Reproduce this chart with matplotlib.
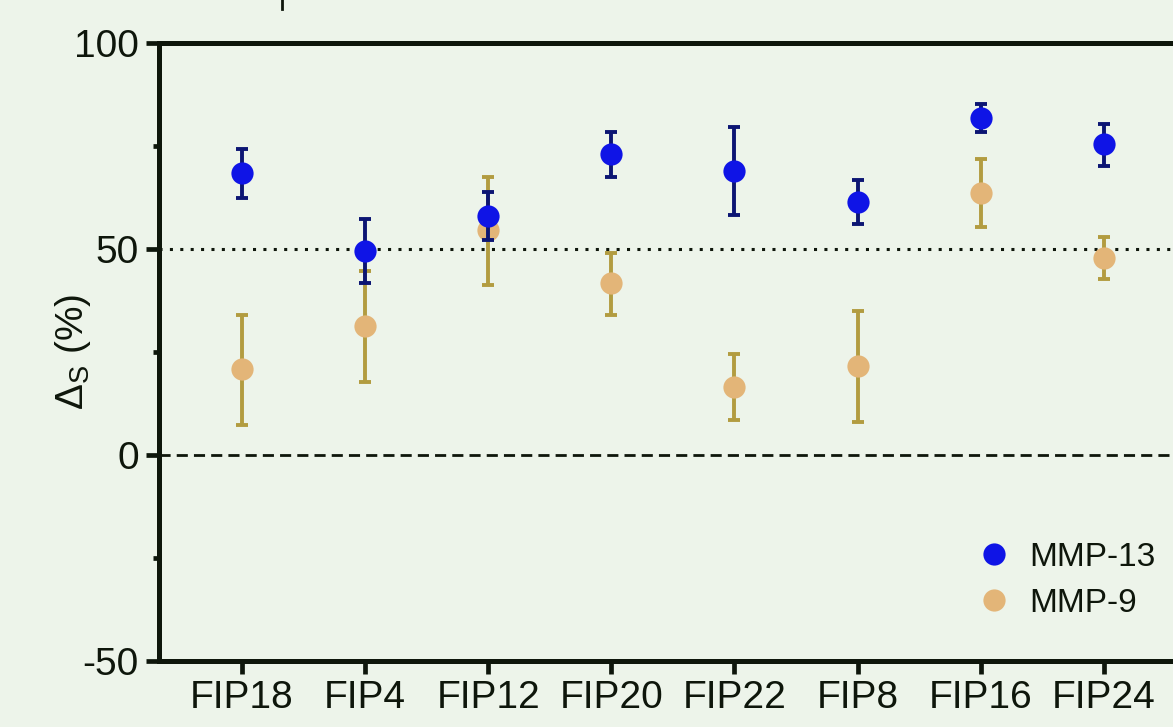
"""Delta_S per FIP probe for MMP-13 and MMP-9 (mean with error bars)."""

import matplotlib

matplotlib.use("Agg")
import matplotlib.pyplot as plt  # noqa: E402
import numpy as np  # noqa: E402
from matplotlib.lines import Line2D  # noqa: E402

BG = "#edf4ea"
INK = "#0e160b"
BLUE, BLUE_ERR = "#0f14e6", "#0c1573"
ORANGE, ORANGE_ERR = "#e3b578", "#b29c40"

probes = ["FIP18", "FIP4", "FIP12", "FIP20", "FIP22", "FIP8", "FIP16", "FIP24"]

mmp13_mean = [68.5, 49.5, 58.0, 73.0, 68.9, 61.4, 81.8, 75.4]
mmp13_lo = [6.1, 7.7, 5.8, 5.5, 10.6, 5.3, 3.4, 5.2]
mmp13_hi = [5.7, 7.7, 5.9, 5.3, 10.7, 5.4, 3.3, 5.0]

mmp9_mean = [20.8, 31.2, 54.6, 41.7, 16.5, 21.5, 63.6, 47.8]
mmp9_lo = [13.5, 13.4, 13.3, 7.7, 8.0, 13.4, 8.2, 5.1]
mmp9_hi = [13.2, 13.5, 12.9, 7.4, 8.0, 13.5, 8.2, 5.1]

yticks_major = [-50, 0, 50, 100]
yticks_minor = [-25, 25, 75]

plt.rcParams.update({
    "font.family": ["Liberation Sans", "DejaVu Sans"],
    "font.size": 28,
    "axes.unicode_minus": False,
})

fig = plt.figure(figsize=(11.73, 7.27), dpi=100, facecolor=BG)
ax = fig.add_axes([0.1355, 0.0908, 0.9104, 0.8504], facecolor=BG)
x = np.arange(len(probes))

ax.axhline(50, color=INK, lw=2.2, ls=(0, (1, 2.4)), zorder=1)
ax.axhline(0, color=INK, lw=2.0, ls=(0, (4, 2.2)), zorder=1)

ax.errorbar(x, mmp9_mean, yerr=[mmp9_lo, mmp9_hi], fmt="none", ecolor=ORANGE_ERR,
            elinewidth=2.8, capsize=4, capthick=2.8, zorder=2)
ax.plot(x, mmp9_mean, "o", color=ORANGE, ms=16, mec="none", zorder=3)
ax.errorbar(x, mmp13_mean, yerr=[mmp13_lo, mmp13_hi], fmt="none", ecolor=BLUE_ERR,
            elinewidth=2.8, capsize=4, capthick=2.8, zorder=4)
ax.plot(x, mmp13_mean, "o", color=BLUE, ms=16, mec="none", zorder=5)

ax.set_xlim(-0.675, 8.0)
ax.set_ylim(-50, 100)
ax.set_xticks(x)
ax.set_xticklabels(probes)
ax.set_yticks(yticks_major)
ax.set_yticks(yticks_minor, minor=True)
ax.tick_params(axis="both", which="major", length=9.4, width=3.4, color=INK,
               labelcolor=INK, labelsize=28)
ax.tick_params(axis="y", which="major", pad=5)
ax.tick_params(axis="x", which="major", pad=4)
ax.tick_params(axis="y", which="minor", length=4.5, width=3.4, color=INK)

for side in ("left", "top", "bottom"):
    ax.spines[side].set_linewidth(3.6)
    ax.spines[side].set_color(INK)
ax.spines["right"].set_visible(False)

ax.set_ylabel("Δ$_\\mathregular{S}$ (%)", color=INK, fontsize=28)
ax.yaxis.set_label_coords(-0.062, 0.5)

handles = [
    Line2D([], [], ls="none", marker="o", ms=16, color=BLUE, mec="none", label="MMP-13"),
    Line2D([], [], ls="none", marker="o", ms=16, color=ORANGE, mec="none", label="MMP-9"),
]
fig.legend(handles=handles, loc="upper left", bbox_to_anchor=(0.819, 0.278),
           frameon=False, fontsize=24, handlelength=1.0, handletextpad=0.55,
           labelspacing=0.45, borderpad=0, labelcolor=INK)

# stray tick left over from the panel above
fig.add_artist(Line2D([281.7 / 1173, 281.7 / 1173], [1.0, 1 - 9 / 727],
                      transform=fig.transFigure, color=INK, lw=2.0))

fig.savefig("out.png", dpi=100, facecolor=BG)
